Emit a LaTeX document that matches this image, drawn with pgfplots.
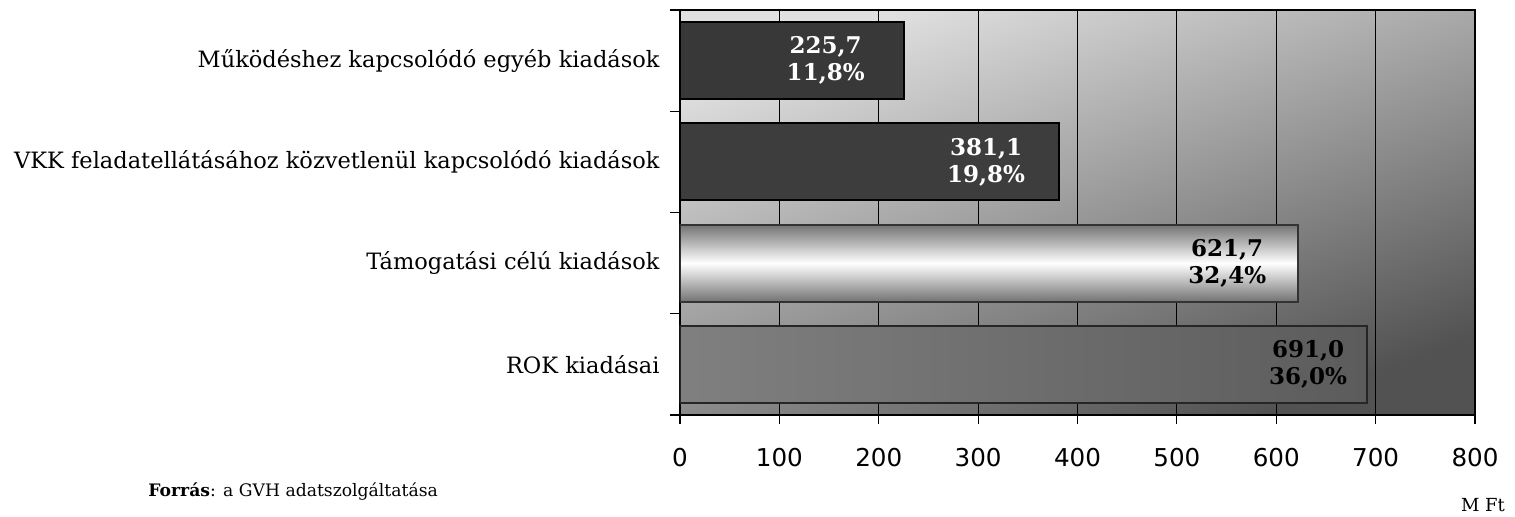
\documentclass[border=0pt]{standalone}
\usepackage{fontspec}
\setmainfont{DejaVu Serif}
\newfontfamily\ticksans{DejaVu Sans}
\usepackage{pgfplots}
\pgfplotsset{compat=1.18}
\usepackage{pgfplotstable}

% rows from bottom (y=0) to top (y=3)
\pgfplotstableread{
y   val    pct
0   691.0  36.0
1   621.7  32.4
2   381.1  19.8
3   225.7  11.8
}\kiadasok

\begin{document}
\begin{tikzpicture}
\begin{axis}[
    at={(0,0)}, anchor=south west,
    scale only axis,
    width=397.5pt, height=202.5pt,
    xbar, bar shift=0pt, bar width=38.5pt,
    xmin=0, xmax=800,
    ymin=-0.5, ymax=3.5,
    xtick={0,100,...,800},
    ytick={0,1,2,3},
    minor ytick={-0.5,0.5,1.5,2.5,3.5},
    yticklabels={ROK kiadásai,
                 Támogatási célú kiadások,
                 VKK feladatellátásához közvetlenül kapcsolódó kiadások,
                 Működéshez kapcsolódó egyéb kiadások},
    tick align=outside,
    xtick pos=bottom, ytick pos=left,
    major tick length=4.5pt, minor tick length=5pt,
    major y tick style={draw=none},
    tick style={black, line width=0.6pt},
    xmajorgrids, grid style={black, line width=0.5pt},
    axis line style={black, line width=0.6pt},
    /pgf/number format/assume math mode=true,
    xticklabel style={font=\ticksans\fontsize{12.3}{14}\selectfont,
                      inner sep=0pt, anchor=north, yshift=-12pt},
    yticklabel style={font=\fontsize{11.25}{13}\selectfont,
                      inner sep=0pt, anchor=east, xshift=-5.5pt},
    axis background/.style={shade, top color=black!12, bottom color=black!68,
                            shading angle=20},
    point meta=x,
    visualization depends on={\thisrow{pct} \as \pct},
    nodes near coords={\pgfmathprintnumber[fixed,fixed zerofill,precision=1,use comma]{\pgfplotspointmeta}\\%
                       \pgfmathprintnumber[fixed,fixed zerofill,precision=1,use comma]{\pct}\%},
    every node near coord/.append style={anchor=east, align=center,
        font=\bfseries\fontsize{11.5}{13.5}\selectfont},
]
% ROK kiadasai
\addplot[draw=black!85, line width=1pt, left color=black!50, right color=black!64,
    every node near coord/.append style={text=black, xshift=-6pt}]
    table[x=val, y=y, skip coords between index={1}{4}] {\kiadasok};
% Tamogatasi celu kiadasok
\addplot[draw=black!80, line width=1pt, top color=black!55, bottom color=black!55, middle color=white,
    every node near coord/.append style={text=black, xshift=-12pt}]
    table[x=val, y=y, skip coords between index={0}{1}, skip coords between index={2}{4}] {\kiadasok};
% VKK
\addplot[draw=black, line width=1pt, fill=black!76,
    every node near coord/.append style={text=white, xshift=-13pt}]
    table[x=val, y=y, skip coords between index={0}{2}, skip coords between index={3}{4}] {\kiadasok};
% Mukodeshez
\addplot[draw=black, line width=1pt, fill=black!78,
    every node near coord/.append style={text=white, xshift=-16pt}]
    table[x=val, y=y, skip coords between index={0}{3}] {\kiadasok};
\end{axis}
\node[anchor=west, inner sep=0pt, font=\fontsize{8.6}{10}\selectfont] at (-266pt,-38.5pt)
    {\textbf{Forrás}: a GVH adatszolgáltatása};
\node[inner sep=0pt, font=\fontsize{9}{11}\selectfont] at (401.5pt,-45pt) {M Ft};
\pgfresetboundingbox
\path (-340pt,-50.5pt) rectangle (417.5pt,207.5pt);
\end{tikzpicture}
\end{document}
